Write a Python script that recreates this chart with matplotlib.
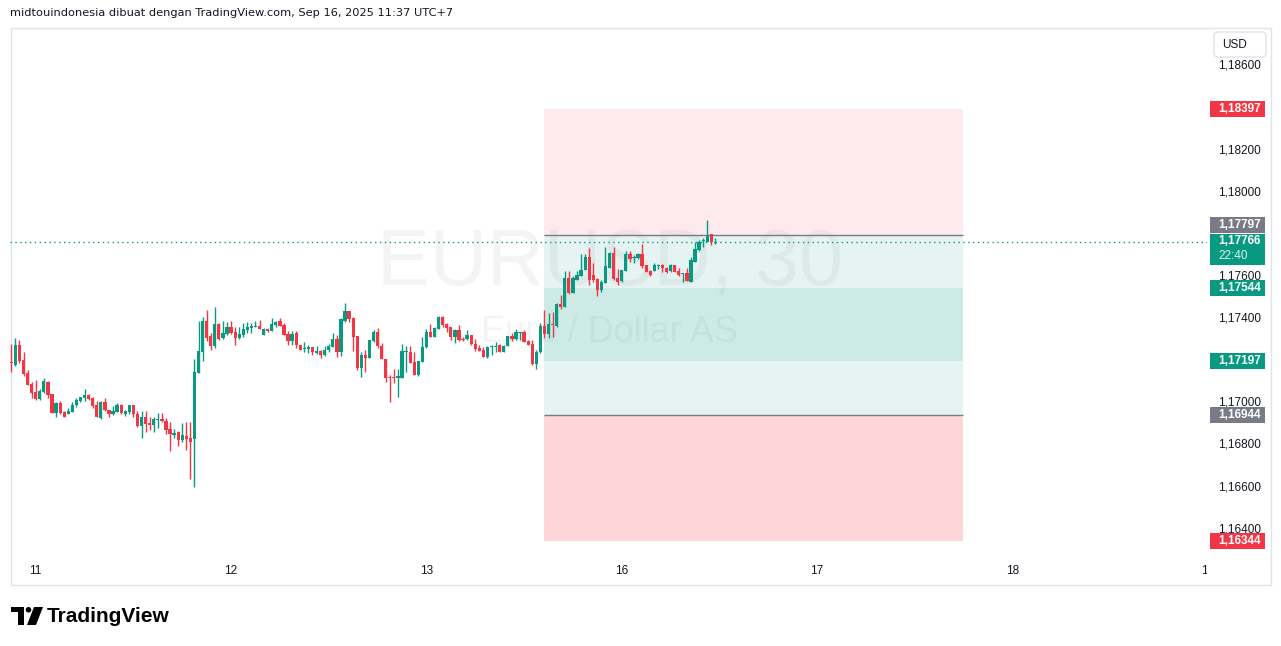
import numpy as np
import matplotlib
matplotlib.use('Agg')
import matplotlib.pyplot as plt
from matplotlib.patches import Rectangle, FancyBboxPatch, Circle, Polygon

plt.rcParams['font.family'] = ['Liberation Sans', 'DejaVu Sans']

# EURUSD 30m candles, Sep 10 21:00 -> Sep 16 11:30 (UTC+7)
opens = [1.17196, 1.17180, 1.17275, 1.17204, 1.17142, 1.17090, 1.17052, 1.17018, 1.17052, 1.17099,
         1.17042, 1.16952, 1.16999, 1.16957, 1.16947, 1.16957, 1.16990, 1.17009, 1.17023, 1.17037,
         1.17023, 1.16990, 1.16928, 1.17004, 1.16966, 1.16947, 1.16957, 1.16990, 1.16947, 1.16957,
         1.16990, 1.16947, 1.16890, 1.16933, 1.16906, 1.16896, 1.16920, 1.16923, 1.16914, 1.16874,
         1.16849, 1.16862, 1.16824, 1.16843, 1.16833, 1.16830, 1.17143, 1.17243, 1.17389, 1.17318,
         1.17270, 1.17375, 1.17309, 1.17328, 1.17359, 1.17338, 1.17309, 1.17323, 1.17347, 1.17357,
         1.17362, 1.17365, 1.17323, 1.17352, 1.17343, 1.17371, 1.17389, 1.17371, 1.17325, 1.17292,
         1.17330, 1.17275, 1.17257, 1.17257, 1.17265, 1.17238, 1.17246, 1.17227, 1.17251, 1.17267,
         1.17304, 1.17243, 1.17391, 1.17438, 1.17404, 1.17319, 1.17167, 1.17227, 1.17214, 1.17295,
         1.17338, 1.17270, 1.17209, 1.17123, 1.17120, 1.17117, 1.17120, 1.17242, 1.17243, 1.17194,
         1.17132, 1.17195, 1.17264, 1.17338, 1.17314, 1.17351, 1.17406, 1.17375, 1.17362, 1.17314,
         1.17346, 1.17304, 1.17302, 1.17321, 1.17280, 1.17262, 1.17251, 1.17216, 1.17267, 1.17267,
         1.17275, 1.17243, 1.17270, 1.17318, 1.17302, 1.17333, 1.17338, 1.17295, 1.17280, 1.17184,
         1.17243, 1.17365, 1.17327, 1.17375, 1.17365, 1.17468, 1.17457, 1.17593, 1.17522, 1.17584,
         1.17603, 1.17631, 1.17691, 1.17607, 1.17588, 1.17536, 1.17571, 1.17642, 1.17713, 1.17592,
         1.17579, 1.17628, 1.17706, 1.17687, 1.17689, 1.17706, 1.17655, 1.17626, 1.17626, 1.17651,
         1.17655, 1.17642, 1.17628, 1.17655, 1.17626, 1.17613, 1.17615, 1.17576, 1.17670, 1.17726,
         1.17769, 1.17763, 1.17801, 1.17761]
highs = [1.17280, 1.17308, 1.17299, 1.17242, 1.17156, 1.17099, 1.17109, 1.17066, 1.17118, 1.17104,
         1.17042, 1.17004, 1.17009, 1.16961, 1.16976, 1.17004, 1.17023, 1.17028, 1.17066, 1.17042,
         1.17028, 1.17009, 1.17009, 1.17023, 1.16966, 1.16985, 1.16999, 1.16995, 1.16966, 1.16990,
         1.16990, 1.16961, 1.16961, 1.16961, 1.16934, 1.16934, 1.16950, 1.16950, 1.16928, 1.16909,
         1.16874, 1.16868, 1.16904, 1.16909, 1.16909, 1.17207, 1.17389, 1.17406, 1.17441, 1.17333,
         1.17455, 1.17381, 1.17391, 1.17384, 1.17389, 1.17362, 1.17359, 1.17379, 1.17383, 1.17378,
         1.17389, 1.17394, 1.17355, 1.17357, 1.17403, 1.17389, 1.17402, 1.17381, 1.17340, 1.17342,
         1.17342, 1.17275, 1.17290, 1.17275, 1.17265, 1.17270, 1.17251, 1.17271, 1.17278, 1.17332,
         1.17322, 1.17402, 1.17474, 1.17438, 1.17409, 1.17319, 1.17240, 1.17251, 1.17299, 1.17347,
         1.17354, 1.17283, 1.17209, 1.17132, 1.17161, 1.17159, 1.17278, 1.17271, 1.17271, 1.17240,
         1.17199, 1.17313, 1.17349, 1.17375, 1.17359, 1.17413, 1.17413, 1.17381, 1.17362, 1.17349,
         1.17371, 1.17311, 1.17346, 1.17323, 1.17302, 1.17275, 1.17267, 1.17270, 1.17275, 1.17290,
         1.17280, 1.17276, 1.17318, 1.17330, 1.17349, 1.17338, 1.17346, 1.17299, 1.17299, 1.17251,
         1.17378, 1.17441, 1.17428, 1.17433, 1.17473, 1.17512, 1.17626, 1.17626, 1.17600, 1.17626,
         1.17706, 1.17706, 1.17734, 1.17663, 1.17592, 1.17584, 1.17742, 1.17718, 1.17742, 1.17636,
         1.17631, 1.17721, 1.17721, 1.17702, 1.17713, 1.17753, 1.17655, 1.17631, 1.17663, 1.17661,
         1.17658, 1.17645, 1.17659, 1.17655, 1.17639, 1.17618, 1.17639, 1.17694, 1.17765, 1.17774,
         1.17782, 1.17869, 1.17801, 1.17784]
lows = [1.17147, 1.17175, 1.17189, 1.17128, 1.17083, 1.17023, 1.17014, 1.17014, 1.17047, 1.17023,
        1.16952, 1.16933, 1.16947, 1.16933, 1.16947, 1.16957, 1.16980, 1.17004, 1.17009, 1.17014,
        1.16976, 1.16933, 1.16923, 1.16961, 1.16933, 1.16942, 1.16957, 1.16947, 1.16938, 1.16947,
        1.16933, 1.16885, 1.16833, 1.16862, 1.16871, 1.16863, 1.16879, 1.16910, 1.16852, 1.16773,
        1.16835, 1.16796, 1.16816, 1.16776, 1.16640, 1.16602, 1.17143, 1.17200, 1.17295, 1.17251,
        1.17262, 1.17299, 1.17304, 1.17323, 1.17325, 1.17276, 1.17304, 1.17314, 1.17332, 1.17332,
        1.17362, 1.17349, 1.17323, 1.17336, 1.17341, 1.17362, 1.17365, 1.17323, 1.17275, 1.17273,
        1.17261, 1.17249, 1.17240, 1.17235, 1.17227, 1.17233, 1.17211, 1.17222, 1.17240, 1.17264,
        1.17219, 1.17222, 1.17386, 1.17386, 1.17246, 1.17156, 1.17123, 1.17145, 1.17214, 1.17290,
        1.17259, 1.17207, 1.17098, 1.17006, 1.17093, 1.17029, 1.17120, 1.17148, 1.17188, 1.17132,
        1.17129, 1.17195, 1.17259, 1.17311, 1.17311, 1.17351, 1.17359, 1.17335, 1.17299, 1.17286,
        1.17295, 1.17294, 1.17299, 1.17275, 1.17247, 1.17246, 1.17216, 1.17211, 1.17227, 1.17243,
        1.17242, 1.17242, 1.17270, 1.17295, 1.17299, 1.17299, 1.17290, 1.17275, 1.17180, 1.17159,
        1.17238, 1.17307, 1.17307, 1.17314, 1.17362, 1.17446, 1.17457, 1.17517, 1.17521, 1.17584,
        1.17600, 1.17631, 1.17560, 1.17576, 1.17507, 1.17525, 1.17568, 1.17639, 1.17584, 1.17560,
        1.17576, 1.17628, 1.17668, 1.17663, 1.17683, 1.17642, 1.17623, 1.17600, 1.17626, 1.17636,
        1.17620, 1.17618, 1.17623, 1.17623, 1.17604, 1.17573, 1.17579, 1.17576, 1.17670, 1.17721,
        1.17742, 1.17763, 1.17750, 1.17754]
closes = [1.17189, 1.17275, 1.17199, 1.17137, 1.17085, 1.17047, 1.17018, 1.17056, 1.17104, 1.17037,
          1.16952, 1.16999, 1.16952, 1.16933, 1.16961, 1.16990, 1.17014, 1.17028, 1.17037, 1.17018,
          1.16985, 1.16933, 1.17004, 1.16966, 1.16947, 1.16961, 1.16990, 1.16952, 1.16961, 1.16990,
          1.16947, 1.16890, 1.16933, 1.16900, 1.16896, 1.16923, 1.16925, 1.16914, 1.16871, 1.16852,
          1.16858, 1.16824, 1.16847, 1.16830, 1.16814, 1.17147, 1.17246, 1.17389, 1.17309, 1.17270,
          1.17375, 1.17302, 1.17332, 1.17362, 1.17332, 1.17309, 1.17328, 1.17351, 1.17362, 1.17366,
          1.17366, 1.17349, 1.17351, 1.17341, 1.17375, 1.17383, 1.17366, 1.17323, 1.17292, 1.17325,
          1.17273, 1.17249, 1.17262, 1.17265, 1.17240, 1.17247, 1.17227, 1.17251, 1.17270, 1.17303,
          1.17243, 1.17397, 1.17438, 1.17398, 1.17314, 1.17167, 1.17227, 1.17214, 1.17299, 1.17338,
          1.17270, 1.17207, 1.17120, 1.17117, 1.17117, 1.17128, 1.17246, 1.17246, 1.17191, 1.17132,
          1.17199, 1.17265, 1.17338, 1.17314, 1.17354, 1.17409, 1.17371, 1.17357, 1.17314, 1.17346,
          1.17299, 1.17299, 1.17321, 1.17278, 1.17254, 1.17247, 1.17219, 1.17267, 1.17270, 1.17270,
          1.17243, 1.17270, 1.17318, 1.17302, 1.17338, 1.17338, 1.17290, 1.17275, 1.17184, 1.17243,
          1.17365, 1.17327, 1.17375, 1.17371, 1.17468, 1.17454, 1.17592, 1.17521, 1.17592, 1.17607,
          1.17631, 1.17694, 1.17584, 1.17584, 1.17536, 1.17576, 1.17651, 1.17713, 1.17588, 1.17576,
          1.17631, 1.17706, 1.17683, 1.17694, 1.17706, 1.17651, 1.17623, 1.17607, 1.17655, 1.17655,
          1.17642, 1.17623, 1.17655, 1.17623, 1.17607, 1.17616, 1.17580, 1.17679, 1.17731, 1.17765,
          1.17774, 1.17797, 1.17763, 1.17766]

day_labels = ['11', '12', '13', '16', '17', '18', '19']
day_bars = [6, 54, 102, 150, 198, 246, 294]
price_ticks = [1.186, 1.184, 1.182, 1.180, 1.178, 1.176, 1.174, 1.172, 1.170, 1.168, 1.166, 1.164]
last_price = 1.17766
countdown = '22:40'

# two position tools (short above, long below)
short_entry, short_target, short_stop = 1.17797, 1.17197, 1.18397
long_entry, long_target, long_stop = 1.16944, 1.17544, 1.16344

GREEN = '#089981'
RED = '#F23645'
GRAY = '#787B86'
TEXT = '#131722'

W, H = 1281, 646
fig = plt.figure(figsize=(W / 100, H / 100), dpi=100)


def frac(x0, y0, x1, y1):
    return [x0 / W, 1 - y1 / H, (x1 - x0) / W, (y1 - y0) / H]


# full-figure pixel overlay for header, frame and logo
fa = fig.add_axes([0, 0, 1, 1])
fa.set_xlim(0, W)
fa.set_ylim(H, 0)
fa.axis('off')

ymin, ymax = 1.16263, 1.18785
xmin, xmax = -0.32, 293.8
ppx = (ymax - ymin) / 531.0

ax = fig.add_axes(frac(10, 27, 1207, 558))
ax.set_xlim(xmin, xmax)
ax.set_ylim(ymin, ymax)
ax.axis('off')

pax = fig.add_axes(frac(1207, 27, 1271, 558))
pax.set_xlim(1207, 1271)
pax.set_ylim(ymin, ymax)
pax.axis('off')

tax = fig.add_axes(frac(10, 558, 1207, 585))
tax.set_xlim(xmin, xmax)
tax.set_ylim(0, 1)
tax.axis('off')

# header + frame
fa.text(10, 13, 'midtouindonesia dibuat dengan TradingView.com, Sep 16, 2025 11:37 UTC+7',
        va='center', ha='left', fontsize=8.2, color=TEXT, family=['DejaVu Sans'])
fa.add_patch(Rectangle((10.5, 27.5), 1260, 557.5, fill=False, ec='#E0E3EB', lw=1))

# watermark
ax.text(0.501, 0.552, 'EURUSD, 30', transform=ax.transAxes, ha='center', va='center',
        fontsize=57, color=GRAY, alpha=0.08, zorder=0)
ax.text(0.501, 0.424, 'Euro / Dollar AS', transform=ax.transAxes, ha='center', va='center',
        fontsize=26, color=GRAY, alpha=0.08, zorder=0)

# position tools
box_start, box_end = 130.9, 233.8
bw = box_end - box_start
ax.add_patch(Rectangle((box_start, short_entry), bw, short_stop - short_entry,
                       fc=RED, alpha=0.1, lw=0, zorder=1))
ax.add_patch(Rectangle((box_start, short_target), bw, short_entry - short_target,
                       fc=GREEN, alpha=0.1, lw=0, zorder=1))
ax.add_patch(Rectangle((box_start, long_entry), bw, long_target - long_entry,
                       fc=GREEN, alpha=0.1, lw=0, zorder=1))
ax.add_patch(Rectangle((box_start, long_stop), bw, long_entry - long_stop,
                       fc=RED, alpha=0.2, lw=0, zorder=1))
ax.hlines([short_entry, long_entry], box_start, box_end, colors=GRAY, lw=1, zorder=2)

# candles
o = np.array(opens)
h = np.array(highs)
l = np.array(lows)
c = np.array(closes)
x = np.arange(len(o))
cols = np.where(c >= o, GREEN, RED)
ax.vlines(x, l, h, colors=cols, lw=1.0, zorder=3)
ax.bar(x, np.maximum(np.abs(c - o), 0.00005), bottom=np.minimum(o, c), width=0.8,
       color=cols, lw=0, zorder=4)

# last price line
ax.axhline(last_price, color=GREEN, lw=1, ls=(0, (1, 2.5)), zorder=5)

# time axis
for b, lab in zip(day_bars, day_labels):
    tax.text(b, 0.5, lab, ha='center', va='center', fontsize=8.5, color=TEXT, clip_on=True)

# price axis: tag boxes hide the ticks they sit on
tags = [(short_stop, RED, 0), (short_entry, GRAY, 10), (long_target, GREEN, 0),
        (short_target, GREEN, 0), (long_entry, GRAY, 0), (long_stop, RED, 0)]
tag_levels = [p + up * ppx for p, _, up in tags] + [last_price]
for p in price_ticks:
    if min(abs(p - t) for t in tag_levels) < 9 * ppx:
        continue
    pax.text(1218, p, f'{p:.5f}'.replace('.', ','), ha='left', va='center',
             fontsize=8.5, color=TEXT, zorder=1)

fa.add_patch(FancyBboxPatch((1214, 32), 52, 25, boxstyle='round,pad=0,rounding_size=4',
                            fc='white', ec='#E0E3EB', lw=1))
fa.text(1222, 44.5, 'USD', ha='left', va='center', fontsize=8.5, color=TEXT)

for p, col, up in tags:
    yc = p + up * ppx
    pax.add_patch(Rectangle((1210, yc - 8 * ppx), 55, 16 * ppx, fc=col, lw=0, zorder=3))
    pax.text(1218, yc, f'{p:.5f}'.replace('.', ','), ha='left', va='center',
             fontsize=8.5, color='white', weight='bold', zorder=4)

pax.add_patch(Rectangle((1210, last_price - 23 * ppx), 55, 31 * ppx, fc=GREEN, lw=0, zorder=3))
pax.text(1218, last_price + 1 * ppx, f'{last_price:.5f}'.replace('.', ','), ha='left', va='center',
         fontsize=8.5, color='white', weight='bold', zorder=4)
pax.text(1218, last_price - 14 * ppx, countdown, ha='left', va='center',
         fontsize=8.5, color='white', alpha=0.85, zorder=4)

# TradingView logo
fa.add_patch(Polygon([(11, 607), (24, 607), (24, 625), (18, 625), (18, 612), (11, 612)],
                     closed=True, fc='black', lw=0))
fa.add_patch(Circle((28.5, 609.8), 2.8, fc='black', lw=0))
fa.add_patch(Polygon([(34, 607), (43, 607), (36, 625), (27, 625)], closed=True, fc='black', lw=0))
fa.text(47, 616, 'TradingView', ha='left', va='center', fontsize=15, weight='bold', color='black')

fig.savefig('out.png', dpi=100)
